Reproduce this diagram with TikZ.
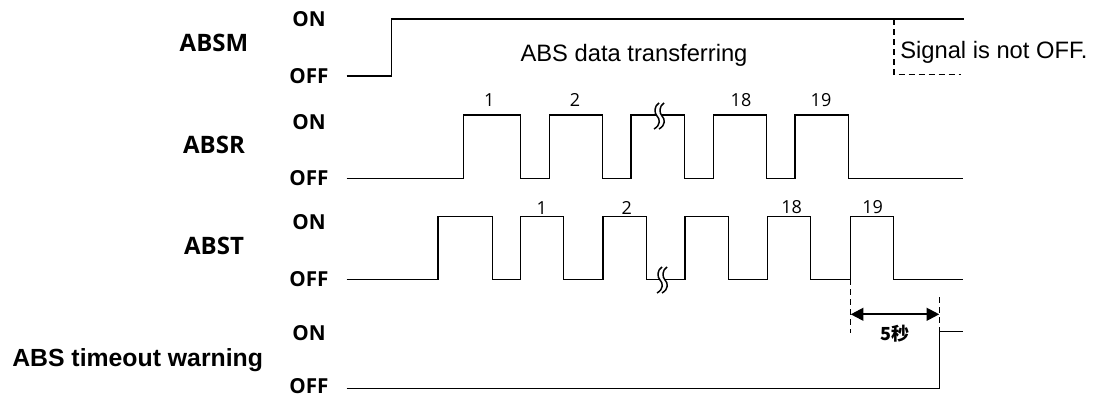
\documentclass[tikz,border=0pt]{standalone}
\usepackage{fontspec}
\setmainfont{Liberation Sans}
\newfontfamily\osans{Open Sans}
\newfontfamily\cjk{Noto Sans CJK SC}
\usetikzlibrary{arrows.meta}
\newcommand{\squig}[2]{%
  \begin{scope}[shift={(#1,#2)}]
    \fill[white] (2,-13) .. controls (-3,-10) and (-3,-3) .. (0,0) .. controls (3,3) and (4,9) .. (-3,13)
      -- (2,13) .. controls (9,9) and (8,3) .. (5,0) .. controls (2,-3) and (2,-10) .. (7,-13) -- cycle;
    \draw[line width=1.1pt] (2,-13) .. controls (-3,-10) and (-3,-3) .. (0,0) .. controls (3,3) and (4,9) .. (-3,13);
    \draw[line width=1.1pt] (7,-13) .. controls (2,-10) and (2,-3) .. (5,0) .. controls (8,3) and (9,9) .. (2,13);
  \end{scope}}
\begin{document}
\begin{tikzpicture}[x=0.75pt,y=-0.75pt,
  sig/.style={line width=1.1pt, line join=miter},
  dsh/.style={line width=1.1pt, dash pattern=on 4.5pt off 3pt},
  lvl/.style={font=\osans\bfseries\fontsize{15.5}{17}\selectfont, anchor=base, inner sep=0pt},
  sname/.style={font=\osans\bfseries\fontsize{18}{20}\selectfont, anchor=base, inner sep=0pt},
  num/.style={font=\osans\fontsize{13.5}{15}\selectfont, anchor=base, inner sep=0pt},
  txt/.style={font=\fontsize{17.8}{20}\selectfont, inner sep=0pt},
]
\useasboundingbox (0,0) rectangle (1096,396);

% signal names
\node[sname] (nm) at (214,51.7) {ABSM};
\node[sname] (nr) at (214,153.3) {ABSR};
\node[sname] (nt) at (214,254.3) {ABST};
\node[font=\bfseries\fontsize{18.6}{20}\selectfont, anchor=base east, inner sep=0pt] (nw) at (263.3,366.7) {ABS timeout warning};

% levels
\node[lvl] (m1) at (309,26.7) {ON};
\node[lvl] (m0) at (309,83.3) {OFF};
\node[lvl] (r1) at (309,129) {ON};
\node[lvl] (r0) at (309,185) {OFF};
\node[lvl] (t1) at (309,229.3) {ON};
\node[lvl] (t0) at (309,286.7) {OFF};
\node[lvl] (w1) at (309,340) {ON};
\node[lvl] (w0) at (309,393) {OFF};

% ABSM
\draw[sig] (346.7,76) -- (391.7,76) -- (391.7,19) -- (964.3,19);
\draw[dsh] (894,19) -- (894,74.5) -- (961,74.5);
\node[txt, anchor=base] (tx1) at (634,61.7) {ABS data transferring};
\node[txt, anchor=base west] (tx2) at (900,58.3) {Signal is not OFF.};

% ABSR
\draw[sig] (346.7,178.3) -- (463.7,178.3) -- (463.7,115) -- (520.7,115) -- (520.7,178.3)
  -- (549.3,178.3) -- (549.3,115) -- (602.3,115) -- (602.3,178.3)
  -- (631,178.3) -- (631,115) -- (684.3,115) -- (684.3,178.3)
  -- (713.3,178.3) -- (713.3,115) -- (766.7,115) -- (766.7,178.3)
  -- (795,178.3) -- (795,115) -- (848.3,115) -- (848.3,178.3) -- (962.7,178.3);
\squig{657}{116}
\node[num] (rn1) at (489.3,106) {1};
\node[num] (rn2) at (575,106) {2};
\node[num] (rn18) at (741,106) {18};
\node[num] (rn19) at (821,106) {19};

% ABST
\draw[sig] (346.7,279.3) -- (438,279.3) -- (438,216.7) -- (492.3,216.7) -- (492.3,279.3)
  -- (520.7,279.3) -- (520.7,216.7) -- (563.3,216.7) -- (563.3,279.3)
  -- (603,279.3) -- (603,216.7) -- (646.3,216.7) -- (646.3,279.3)
  -- (685,279.3) -- (685,216.7) -- (728.3,216.7) -- (728.3,279.3)
  -- (767.7,279.3) -- (767.7,216.7) -- (810.7,216.7) -- (810.7,279.3)
  -- (850.7,279.3) -- (850.7,216.7) -- (893.3,216.7) -- (893.3,279.3) -- (962.7,279.3);
\squig{660}{280}
\node[num] (tn1) at (541.7,214) {1};
\node[num] (tn2) at (626.7,214) {2};
\node[num] (tn18) at (791.7,213.5) {18};
\node[num] (tn19) at (872.7,213.5) {19};

% timeout warning
\draw[sig] (346.7,388.7) -- (939.3,388.7) -- (939.3,331.7) -- (962.7,331.7);
\draw[dsh] (850.7,279.3) -- (850.7,333);
\draw[dsh] (939.3,297) -- (939.3,331.7);
\coordinate (a1) at (850.7,314.3);
\coordinate (a2) at (939.3,314.3);
\draw[line width=1.6pt, {Triangle[length=9.5pt,width=9.5pt]}-{Triangle[length=9.5pt,width=9.5pt]}] (a1) -- (a2);
\node[font=\cjk\bfseries\fontsize{13.5}{15}\selectfont, anchor=base, inner sep=0pt] (five) at (895,340) {5秒};
\end{tikzpicture}
\end{document}
